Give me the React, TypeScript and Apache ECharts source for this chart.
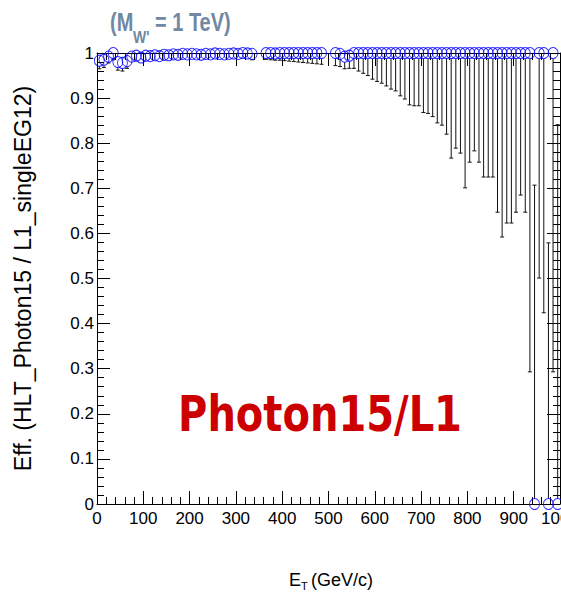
import { useEffect, useRef } from "react";
import * as echarts from "echarts";

// Bin centres (GeV) of the efficiency histogram (10 GeV bins; empty bins omitted)
const binCenters = [
  5, 15, 25, 35, 45, 55, 65, 75, 85, 95, 105, 115, 125, 135, 145, 155, 165, 175, 185, 195,
  205, 215, 225, 235, 245, 255, 265, 275, 285, 295, 305, 315, 325, 335,
  365, 375, 385, 395, 405, 415, 425, 435, 445, 455, 465, 475, 485,
  515, 525, 535, 545, 555, 565, 575, 585, 595, 605, 615, 625, 635, 645, 655, 665, 675, 685, 695,
  705, 715, 725, 735, 745, 755, 765, 775, 785, 795, 805, 815, 825, 835, 845, 855, 865, 875, 885, 895,
  905, 915, 925, 935, 945, 955, 965, 975, 985, 995,
];

const efficiency = [
  0.983, 0.985, 0.992, 1.0, 0.98, 0.978, 0.982, 0.992, 0.994, 0.99,
  0.994, 0.993, 0.995, 0.993, 0.996, 0.995, 0.997, 0.996, 0.998, 0.997,
  0.998, 0.997, 0.996, 0.998, 0.997, 0.999, 0.998, 0.997, 0.998, 0.999,
  0.998, 1.0, 0.999, 0.998,
  1.0, 1.0, 0.999, 1.0, 1.0, 1.0, 1.0, 1.0, 1.0, 1.0, 1.0, 1.0, 1.0,
  1.0, 0.998, 0.992, 0.994,
  1.0, 1.0, 1.0, 1.0, 1.0, 1.0, 1.0, 1.0, 1.0, 1.0,
  1.0, 1.0, 1.0, 1.0, 1.0, 1.0, 1.0, 1.0, 1.0, 1.0,
  1.0, 1.0, 1.0, 1.0, 1.0, 1.0, 1.0, 1.0, 1.0, 1.0,
  1.0, 1.0, 1.0, 1.0, 1.0, 1.0, 1.0, 1.0, 1.0,
  0.0, 1.0, 1.0, 0.0, 1.0, 0.0,
];

const lowerBound = [
  0.965, 0.968, 0.978, 0.985, 0.962, 0.96, 0.966, 0.98, 0.983, 0.978,
  0.984, 0.983, 0.986, 0.982, 0.987, 0.985, 0.989, 0.987, 0.99, 0.988,
  0.99, 0.988, 0.986, 0.989, 0.987, 0.99, 0.988, 0.986, 0.988, 0.99,
  0.987, 0.988, 0.987, 0.985,
  0.986, 0.985, 0.984, 0.984, 0.983, 0.982, 0.981, 0.98, 0.979, 0.978, 0.977, 0.976, 0.975,
  0.972, 0.97, 0.965, 0.966,
  0.966, 0.96, 0.955, 0.95, 0.942, 0.937, 0.933, 0.927, 0.92, 0.916,
  0.905, 0.898, 0.885, 0.883, 0.883, 0.868, 0.866, 0.859, 0.845, 0.84,
  0.82, 0.767, 0.789, 0.778, 0.701, 0.758, 0.783, 0.758, 0.725, 0.725,
  0.725, 0.647, 0.592, 0.623, 0.623, 0.647, 0.685, 0.647, 0.293,
  0.0, 0.501, 0.424, 0.0, 0.293, 0.0,
];

const upperBound = [
  0.993, 0.994, 0.998, 1.0, 0.991, 0.99, 0.992, 0.997, 0.998, 0.996,
  0.998, 0.998, 0.999, 0.998, 0.999, 0.999, 0.999, 0.999, 1.0, 0.999,
  1.0, 0.999, 0.999, 1.0, 0.999, 1.0, 1.0, 0.999, 1.0, 1.0,
  1.0, 1.0, 1.0, 1.0,
  1.0, 1.0, 1.0, 1.0, 1.0, 1.0, 1.0, 1.0, 1.0, 1.0, 1.0, 1.0, 1.0,
  1.0, 1.0, 0.998, 0.999,
  1.0, 1.0, 1.0, 1.0, 1.0, 1.0, 1.0, 1.0, 1.0, 1.0,
  1.0, 1.0, 1.0, 1.0, 1.0, 1.0, 1.0, 1.0, 1.0, 1.0,
  1.0, 1.0, 1.0, 1.0, 1.0, 1.0, 1.0, 1.0, 1.0, 1.0,
  1.0, 1.0, 1.0, 1.0, 1.0, 1.0, 1.0, 1.0, 1.0,
  0.707, 1.0, 1.0, 0.579, 1.0, 0.841,
];

const yAxisTitle = "Eff. (HLT_Photon15 / L1_singleEG12)";
const overlayLabel = "Photon15/L1";

const FONT = "'Liberation Sans', Arial, Helvetica, sans-serif";
const TITLE_COLOR = "#7088a1";

export default function App() {
  const ref = useRef<HTMLDivElement | null>(null);

  useEffect(() => {
    if (!ref.current) return;
    const chart = echarts.init(ref.current, undefined, { renderer: "svg" });

    const pts = binCenters.map((x, i) => [x, efficiency[i]]);
    const errs = binCenters.map((x, i) => [x, efficiency[i], lowerBound[i], upperBound[i]]);

    const R = 5.5;
    const CAP = 2;

    const axisCommon = {
      axisLine: { show: true, onZero: false, lineStyle: { color: "#000", width: 1 } },
      axisTick: { show: true, inside: true, length: 13, lineStyle: { color: "#000", width: 1 } },
      minorTick: { show: true, splitNumber: 5, length: 7, lineStyle: { color: "#000", width: 1 } },
      splitLine: { show: false },
      minorSplitLine: { show: false },
    };

    const option: any = {
      animation: false,
      grid: {
        left: 97,
        right: 1,
        top: 53,
        bottom: 89,
        containLabel: false,
        outerBoundsMode: "none",
      },
      xAxis: [
        {
          type: "value",
          position: "bottom",
          min: 0,
          max: 1000,
          interval: 100,
          ...axisCommon,
          axisLabel: {
            show: true,
            fontSize: 17,
            color: "#000",
            fontFamily: FONT,
            margin: 6,
            showMinLabel: true,
            showMaxLabel: true,
            hideOverlap: false,
            formatter: (v: number) => String(Math.round(v)),
          },
        },
        {
          type: "value",
          position: "top",
          min: 0,
          max: 1000,
          interval: 100,
          ...axisCommon,
          axisLabel: { show: false },
        },
      ],
      yAxis: [
        {
          type: "value",
          position: "left",
          min: 0,
          max: 1,
          interval: 0.1,
          ...axisCommon,
          axisLabel: {
            show: true,
            fontSize: 17,
            color: "#000",
            fontFamily: FONT,
            margin: 3,
            formatter: (v: number) => String(Math.round(v * 10) / 10),
          },
          name: yAxisTitle,
          nameLocation: "middle",
          nameRotate: 90,
          nameGap: 63,
          nameTextStyle: { fontSize: 23, color: "#000", fontFamily: FONT },
        },
        {
          type: "value",
          position: "right",
          min: 0,
          max: 1,
          interval: 0.1,
          ...axisCommon,
          axisLabel: { show: false },
        },
      ],
      graphic: [
        {
          type: "text",
          x: 110,
          y: 23,
          scaleY: 1.25,
          style: {
            text: "(M",
            fontSize: 20,
            fontWeight: "bold",
            fontFamily: FONT,
            fill: TITLE_COLOR,
            align: "left",
            verticalAlign: "middle",
          },
        },
        {
          type: "text",
          x: 133,
          y: 37,
          scaleY: 1.2,
          style: {
            text: "W'",
            fontSize: 14,
            fontWeight: "bold",
            fontFamily: FONT,
            fill: TITLE_COLOR,
            align: "left",
            verticalAlign: "middle",
          },
        },
        {
          type: "text",
          x: 155,
          y: 23,
          scaleY: 1.25,
          style: {
            text: "= 1 TeV)",
            fontSize: 20,
            fontWeight: "bold",
            fontFamily: FONT,
            fill: TITLE_COLOR,
            align: "left",
            verticalAlign: "middle",
          },
        },
        {
          type: "text",
          x: 289,
          y: 580,
          style: {
            text: "E",
            fontSize: 18,
            fontFamily: FONT,
            fill: "#000",
            align: "left",
            verticalAlign: "middle",
          },
        },
        {
          type: "text",
          x: 301,
          y: 586,
          style: {
            text: "T",
            fontSize: 11,
            fontFamily: FONT,
            fill: "#000",
            align: "left",
            verticalAlign: "middle",
          },
        },
        {
          type: "text",
          x: 311,
          y: 580,
          style: {
            text: "(GeV/c)",
            fontSize: 18,
            fontFamily: FONT,
            fill: "#000",
            align: "left",
            verticalAlign: "middle",
          },
        },
        {
          type: "text",
          x: 320,
          y: 414,
          scaleY: 1.25,
          style: {
            text: overlayLabel,
            fontSize: 40,
            fontWeight: "bold",
            fontFamily: "'DejaVu Sans', sans-serif",
            fill: "#cc0000",
            align: "center",
            verticalAlign: "middle",
          },
        },
      ],
      series: [
        {
          type: "custom",
          xAxisIndex: 0,
          yAxisIndex: 0,
          clip: false,
          encode: { x: 0, y: 1 },
          data: errs,
          renderItem: (_params: any, api: any) => {
            const x = api.value(0);
            const y = api.value(1);
            const lo = api.value(2);
            const hi = api.value(3);
            const c = api.coord([x, y]);
            const cl = api.coord([x, lo]);
            const ch = api.coord([x, hi]);
            const style = { stroke: "#111", lineWidth: 1 };
            const children: any[] = [];
            if (cl[1] - c[1] > R) {
              children.push({ type: "line", shape: { x1: c[0], y1: c[1] + R, x2: c[0], y2: cl[1] }, style });
              children.push({ type: "line", shape: { x1: c[0] - CAP, y1: cl[1], x2: c[0] + CAP, y2: cl[1] }, style });
            }
            if (c[1] - ch[1] > R) {
              children.push({ type: "line", shape: { x1: c[0], y1: c[1] - R, x2: c[0], y2: ch[1] }, style });
              children.push({ type: "line", shape: { x1: c[0] - CAP, y1: ch[1], x2: c[0] + CAP, y2: ch[1] }, style });
            }
            return { type: "group", children };
          },
          z: 2,
        },
        {
          type: "scatter",
          xAxisIndex: 0,
          yAxisIndex: 0,
          clip: false,
          data: pts,
          symbol: "circle",
          symbolSize: [10, 11],
          itemStyle: { color: "rgba(0,0,0,0)", borderColor: "#0000ff", borderWidth: 1 },
          z: 3,
        },
      ],
    };

    chart.setOption(option);
    return () => chart.dispose();
  }, []);

  return (
    <div
      ref={ref}
      style={{ position: "absolute", left: 0, top: 0, width: 561, height: 593, background: "#fff" }}
    />
  );
}
